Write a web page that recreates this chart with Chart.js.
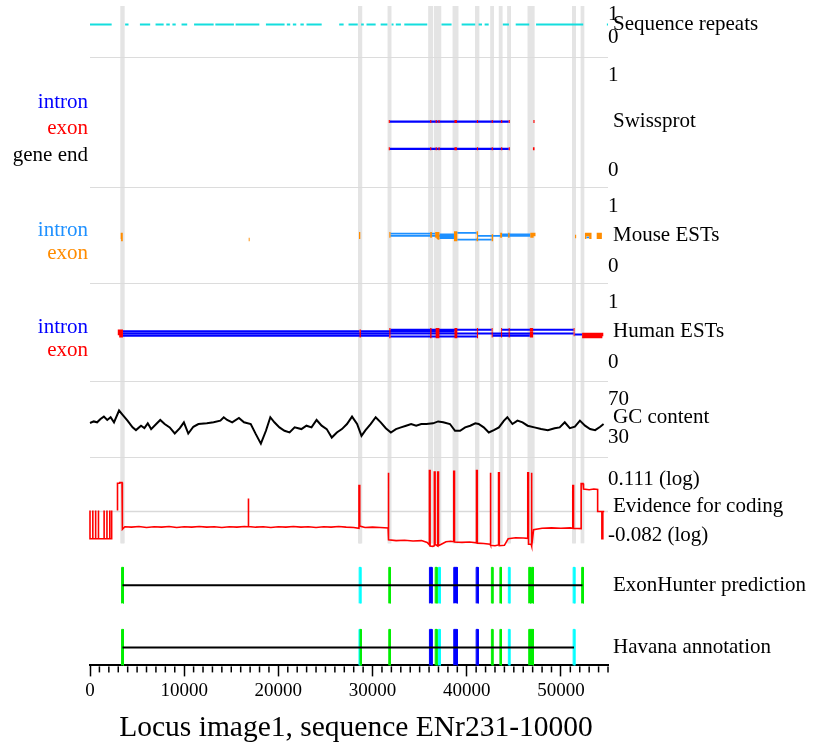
<!DOCTYPE html>
<html><head><meta charset="utf-8">
<script src="https://cdn.jsdelivr.net/npm/chart.js@4.4.1/dist/chart.umd.min.js"></script>
<style>html,body{margin:0;padding:0;background:#fff;}canvas{display:block;}</style>
</head><body>
<canvas id="c" width="813" height="745"></canvas>
<script>
// ---------------- DATA ----------------
const xMin = 0, xMax = 55000, majorStep = 10000, minorStep = 1000;
const xTickLabels = ['0','10000','20000','30000','40000','50000'];
const xTitle = 'Locus image1, sequence ENr231-10000';

const trackIds = ['yRep','ySw','yMo','yHu','yGC','yEv','yEH','yHa'];
const trackNames = ['Sequence repeats','Swissprot','Mouse ESTs','Human ESTs','GC content','Evidence for coding','ExonHunter prediction','Havana annotation'];
const trackTopLabels = ['1','1','1','1','70','0.111 (log)','',''];
const trackBottomLabels = ['0','0','0','0','30','-0.082 (log)','',''];
const trackMin = [0,0,0,0,30,-0.082,0,0];
const trackMax = [1,1,1,1,70,0.111,1,1];

const swissLegend = ['intron','exon','gene end'];
const mouseLegend = ['intron','exon'];
const humanLegend = ['intron','exon'];

// Sequence repeats (bp intervals)
const repeatIntervals = [[0,2300],[3730,4090],[5300,6390],[6960,7820],[8100,8470],[8750,9100],[9720,10320],[11050,13130],[13310,15280],[15460,17980],[18680,20660],[20900,21260],[21540,21900],[22340,22700],[22990,24600],[26460,26930],[27450,28430],[28790,29070],[29360,30330],[30860,31580],[32020,32230],[32470,33010],[33370,35810],[37320,38390],[39460,40900],[41260,41620],[41900,42330],[43830,44480],[45200,46640],[47360,52370],[54880,55000]];

// Swissprot alignments: [row, exons]
const swissAlignments = [
  [0.50, [[31720,31840],[36120,36240],[36700,36820],[37000,37120],[38700,38960],[41080,41200],[42650,42770],[43650,43770],[44460,44580]]],
  [0.50, [[47080,47200]]],
  [0.25, [[31720,31840],[36120,36240],[36700,36820],[37000,37120],[38700,38960],[41080,41200],[42650,42770],[43650,43770],[44460,44580]]],
  [0.25, [[47030,47200]]]
];

// Mouse EST alignments
const mouseAlignments = [
  [0.51,[[3260,3480]]],[0.47,[[3260,3480]]],[0.44,[[3300,3480]]],
  [0.44,[[16850,16950]]],
  [0.52,[[28560,28700]]],[0.47,[[28560,28700]]],
  [0.52,[[31780,31900],[36120,36300],[36650,37100]]],
  [0.49,[[31780,31900],[36120,36300],[36650,37100],[38700,39000]]],
  [0.51,[[36700,37100],[38650,39000]]],
  [0.50,[[36700,37100],[38650,39000]]],
  [0.48,[[36800,37100],[38650,39000]]],
  [0.47,[[36800,37100],[38650,39000]]],
  [0.46,[[36900,37100],[38650,39000]]],
  [0.53,[[38650,39000],[41050,41200]]],
  [0.44,[[38650,39000],[41050,41200],[42650,42800]]],
  [0.49,[[41100,41200],[42650,42800],[43550,43750],[44400,44550],[46750,47100]]],
  [0.51,[[43550,43750],[44400,44550],[46750,47300]]],
  [0.48,[[51500,51620]]],
  [0.51,[[52550,53250]]],[0.47,[[52550,52700],[53000,53250]]],
  [0.51,[[53800,54350]]],[0.47,[[53800,54350]]]
];

// Human EST alignments
const humanAlignments = [
  [0.50,[[2950,3500],[28620,28760]]],
  [0.47,[[2950,3500],[28620,28760],[31780,31900],[36120,36260],[36700,37100],[38700,39000],[41080,41200],[42650,42750],[43650,43750],[44450,44560],[46700,47050],[51350,51450]]],
  [0.44,[[3100,3500],[28620,28760],[31780,31900]]],
  [0.50,[[28620,28760],[31780,31900],[36120,36260],[36700,37100],[38700,39000]]],
  [0.52,[[31780,31900],[36120,36260],[36700,37100],[38700,39000],[41080,41200],[42650,42750]]],
  [0.43,[[31780,31900],[36120,36260],[36700,37100],[38700,39000],[41080,41200]]],
  [0.52,[[43650,43750],[44450,44560],[46700,47050],[51350,51450]]],
  [0.44,[[42650,42750],[43650,43750],[44450,44560],[46700,47050]]],
  [0.455,[[51350,51450],[52250,54500]]],
  [0.43,[[52250,54400]]]
];

// GC content (%), position in bp
const gcPos = [0,397,756,1114,1473,1831,2190,2548,3086,3444,3982,4520,4879,5416,5775,6133,6492,7030,7460,7926,8464,9001,9539,9969,10435,10973,11511,12407,13124,13841,14200,14558,15096,15813,16351,17068,17606,18143,18681,19147,19577,20115,20652,21190,21728,22445,22983,23520,24058,24596,25134,25671,26209,26747,27285,27822,28360,28827,29257,29795,30332,30870,31408,31945,32483,33021,33559,34096,34634,35172,35710,36426,36964,37502,38219,38757,39295,39832,40370,40908,41266,41804,42342,42880,43418,43955,44314,44852,45389,45927,46465,47182,47898,48615,49332,49870,50408,50946,51484,52021,52559,53097,53635,54173,54531];
const gcVal = [45.6,46.8,46.1,48.7,50.5,47.9,50.0,46.1,55.2,52.1,47.4,42.2,40.1,43.5,41.7,45.3,40.9,44.8,47.9,44.8,42.2,37.5,41.6,46.1,37.5,42.7,44.8,45.3,46.1,47.4,50.0,47.9,46.1,49.5,46.1,44.8,37.0,29.7,39.6,50.0,46.1,42.2,39.6,38.3,42.2,40.9,43.5,42.2,47.9,43.5,40.9,34.4,38.3,40.9,44.8,50.5,44.8,35.7,40.1,44.8,50.0,46.1,41.6,38.3,40.9,42.2,43.5,44.8,43.5,44.8,44.8,45.3,46.8,46.1,44.8,39.6,39.6,42.2,43.5,45.3,44.8,42.2,38.3,40.1,42.2,47.4,50.0,44.8,47.4,46.1,43.5,42.2,40.9,40.1,41.6,42.2,46.1,41.6,42.7,47.4,43.5,40.9,40.1,42.7,44.8];

// Evidence for coding (log score), [bp, value]; null = no data
const evidence = [
 [0,-0.075],[0,0.003],[0,-0.075],[300,-0.075],[300,0.003],[300,-0.075],[600,-0.075],[600,0.003],[600,-0.075],[900,-0.075],[900,0.003],[900,-0.075],[1500,-0.075],[1500,0.003],[1500,-0.075],[1800,-0.075],[1800,0.003],[1800,-0.075],[2100,-0.075],[2100,0.003],[2100,-0.075],[2300,-0.075],[2300,0.003],
 [2600,null],
 [2920,0.003],[2920,0.078],[3150,0.078],[3160,0.080],[3400,0.080],[3440,0.077],[3440,-0.049],[3700,-0.042],[4400,-0.043],[5200,-0.041],[6000,-0.044],[6800,-0.042],[7600,-0.043],[8400,-0.041],[9200,-0.044],[10000,-0.042],[10800,-0.043],[11600,-0.041],[12400,-0.043],[13200,-0.042],[14000,-0.044],[14800,-0.042],[15600,-0.043],[16400,-0.041],[16780,-0.042],[16780,0.036],[16850,0.036],[16850,-0.041],[17600,-0.043],[18400,-0.042],[19200,-0.044],[20000,-0.042],[20800,-0.043],[21600,-0.041],[22400,-0.043],[23200,-0.042],[24000,-0.044],[24800,-0.042],[25600,-0.043],[26400,-0.041],[27200,-0.043],[28000,-0.044],[28560,-0.046],[28560,0.072],[28640,0.072],[28640,-0.040],[29200,-0.044],[30000,-0.043],[30800,-0.044],[31650,-0.045],[31650,0.107],[31720,0.107],[31720,-0.078],[32500,-0.080],[33400,-0.079],[34300,-0.081],[35200,-0.080],[35800,-0.085],[36040,-0.092],[36040,0.113],[36110,0.113],[36110,-0.095],[36400,-0.096],[36560,-0.094],[36560,0.109],[36640,0.109],[36640,-0.090],[36920,-0.095],[36920,0.109],[37000,0.109],[37000,-0.094],[37300,-0.090],[37800,-0.083],[38300,-0.082],[38620,-0.083],[38620,0.111],[38700,0.111],[38700,-0.084],[39500,-0.085],[40300,-0.084],[41040,-0.086],[41040,0.113],[41120,0.113],[41120,-0.087],[41800,-0.088],[42480,-0.090],[42480,0.107],[42560,0.107],[42560,-0.093],[43000,-0.094],[43380,-0.092],[43380,0.107],[43460,0.107],[43460,-0.094],[44000,-0.093],[44400,-0.075],[45200,-0.072],[46000,-0.073],[46480,-0.074],[46480,0.107],[46560,0.107],[46560,-0.090],[46840,-0.090],[46840,0.107],[46920,0.107],[46920,-0.095],[47100,-0.050],[48000,-0.046],[49000,-0.045],[50000,-0.046],[51000,-0.045],[51260,-0.046],[51260,0.072],[51340,0.072],[51340,-0.046],[52150,-0.047],[52150,0.077],[52350,0.077],[52400,0.062],[53000,0.060],[53500,0.062],[53900,0.061],[53900,0.0],[54350,0.0],[54350,-0.075],[54450,-0.075],[54450,0.0],[54600,0.0]
];

// ExonHunter prediction exons by colour class
const ehGreen = [[3350,3550],[31720,31880],[36650,36850],[42620,42780],[43520,43680],[46580,46780],[46880,47080],[52200,52380]];
const ehCyan  = [[28580,28760],[37000,37180],[44420,44580],[51300,51480]];
const ehBlue  = [[36040,36320],[38620,39000],[41000,41220]];
const ehGene  = [3450, 52290];
// Havana annotation exons
const havGreen = [[3350,3550],[28680,28800],[31720,31880],[36650,36850],[42620,42780],[43520,43680],[46580,47080]];
const havCyan  = [[28560,28680],[37000,37180],[44420,44580],[51300,51480]];
const havBlue  = [[36040,36320],[38620,39000],[41000,41220]];
const havGene  = [3450, 51390];

// ---------------- LAYOUT / STYLE ----------------
const FONT = "'Liberation Serif', 'Times New Roman', serif";
const trackHeights = [37,109,74,74,52,70,36,36];
const gapHeights = [24,22,22,23,28,26,26];
const separatorGaps = [0,1,2,3,4];
const separatorFrac = [0.6,0.5,0.5,0.55,0.5];
const legendOffsets = {ySw:[-19.5,6.5,33.5], yMo:[-5,18], yHu:[-4,19]};
const legendColors = {ySw:['#0000ff','#ff0000','#000000'], yMo:['#1e90ff','#ff8c00'], yHu:['#0000ff','#ff0000']};
const legendTexts = {ySw:swissLegend, yMo:mouseLegend, yHu:humanLegend};

// ---------------- BUILD ----------------
function intervalPts(intervals, y) {
  const pts = [];
  intervals.forEach(([s,e], i) => { if (i) pts.push({x:s, y:null}); pts.push({x:s, y:y}, {x:e, y:y}); });
  return pts;
}
function intronPts(alignments) {
  const pts = [];
  alignments.forEach(([row, ex]) => {
    if (ex.length < 2) return;
    if (pts.length) pts.push({x:ex[0][0], y:null});
    pts.push({x:ex[0][1], y:row}, {x:ex[ex.length-1][0], y:row});
  });
  return pts;
}
function exonPts(alignments) {
  const pts = [];
  alignments.forEach(([row, ex]) => ex.forEach(([s,e]) => {
    if (pts.length) pts.push({x:s, y:null});
    pts.push({x:s, y:row}, {x:e, y:row});
  }));
  return pts;
}
function blockPts(intervals) {
  const pts = [];
  intervals.forEach(([s,e], i) => {
    if (i) pts.push({x:s, y:null});
    pts.push({x:s,y:0},{x:s,y:1},{x:e,y:1},{x:e,y:0});
  });
  return pts;
}

const datasets = [];
function addLine(axis, data, color, width, order, extra) {
  datasets.push(Object.assign({type:'line', xAxisID:'x', yAxisID:axis, data:data, borderColor:color, backgroundColor:color,
    borderWidth:width, order:order, pointRadius:0, pointHoverRadius:0, fill:false, tension:0, clip:false, spanGaps:false}, extra || {}));
}

addLine('yRep', intervalPts(repeatIntervals, 0.5), '#14dede', 2, 5);
addLine('ySw', intronPts(swissAlignments), '#0000ff', 2.2, 6);
addLine('ySw', exonPts(swissAlignments), '#ff0000', 3, 4);
addLine('yMo', intronPts(mouseAlignments), '#1e90ff', 1.8, 6);
addLine('yMo', exonPts(mouseAlignments), '#ff8c00', 3.5, 4);
addLine('yHu', intronPts(humanAlignments), '#0000ff', 2, 6);
addLine('yHu', exonPts(humanAlignments), '#ff0000', 3.5, 4);
addLine('yGC', gcPos.map((p,i)=>({x:p, y:gcVal[i]})), '#000000', 2, 5);
addLine('yEv', [{x:xMin,y:0},{x:xMax,y:0}], '#d9d9d9', 1.5, 10);
addLine('yEv', evidence.map(([p,v])=>({x:p, y:v})), '#ff0000', 1.6, 5);
addLine('yEH', blockPts(ehGreen), '#00ee00', 1, 3, {fill:'origin'});
addLine('yEH', blockPts(ehCyan), '#00ffff', 1, 3, {fill:'origin'});
addLine('yEH', blockPts(ehBlue), '#0000ff', 1, 3, {fill:'origin'});
addLine('yEH', [{x:ehGene[0],y:0.5},{x:ehGene[1],y:0.5}], '#000000', 2, 1);
addLine('yHa', blockPts(havGreen), '#00ee00', 1, 3, {fill:'origin'});
addLine('yHa', blockPts(havCyan), '#00ffff', 1, 3, {fill:'origin'});
addLine('yHa', blockPts(havBlue), '#0000ff', 1, 3, {fill:'origin'});
addLine('yHa', [{x:havGene[0],y:0.5},{x:havGene[1],y:0.5}], '#000000', 2, 1);

const bandExons = [].concat(ehGreen, ehCyan, ehBlue, havGreen, havCyan, havBlue);

const scales = {
  x: { type:'linear', position:'bottom', min:xMin, max:xMax,
    ticks: { stepSize:minorStep, autoSkip:false, maxRotation:0, minRotation:0, padding:3, color:'#000',
      font:{family:FONT, size:19}, callback: v => xTickLabels.includes(String(v)) ? String(v) : '' },
    grid: { drawOnChartArea:false, tickLength:11, tickWidth:1.5,
      tickColor: c => (c.tick && c.tick.value % majorStep === 0) ? '#000' : 'rgba(0,0,0,0)' },
    border: { display:true, color:'#000', width:2 },
    title: { display:false } }
};
let wgt = 0;
trackIds.forEach((id, i) => {
  scales[id] = {type:'linear', position:'right', stack:'tracks', stackWeight:trackHeights[i], weight:wgt++, display:false, min:trackMin[i], max:trackMax[i]};
  if (i < gapHeights.length) scales['gap'+i] = {type:'linear', position:'right', stack:'tracks', stackWeight:gapHeights[i], weight:wgt++, display:false, min:0, max:1};
});

const trackPlugin = {
  id: 'tracks',
  beforeDatasetsDraw(chart) {
    const ctx = chart.ctx, xs = chart.scales.x;
    const top = chart.scales.yRep.top, bottom = chart.scales.yEv.bottom + 2;
    ctx.save();
    ctx.fillStyle = '#e4e4e4';
    bandExons.forEach(([s,e]) => {
      const a = xs.getPixelForValue(s) - 1, b = xs.getPixelForValue(e) + 1;
      ctx.fillRect(a, top, Math.max(b - a, 3), bottom - top);
    });
    ctx.strokeStyle = '#dcdcdc'; ctx.lineWidth = 1;
    separatorGaps.forEach((g, k) => {
      const sc = chart.scales['gap'+g];
      const y = Math.round(sc.top + (sc.bottom - sc.top) * separatorFrac[k]) + 0.5;
      ctx.beginPath(); ctx.moveTo(xs.left, y); ctx.lineTo(xs.right, y); ctx.stroke();
    });
    ctx.restore();
  },
  afterDraw(chart) {
    const ctx = chart.ctx, xs = chart.scales.x;
    ctx.save();
    ctx.font = '21px ' + FONT;
    ctx.fillStyle = '#000';
    trackIds.forEach((id, i) => {
      const sc = chart.scales[id];
      ctx.textAlign = 'left';
      ctx.textBaseline = 'alphabetic';
      if (trackTopLabels[i]) ctx.fillText(trackTopLabels[i], xs.right, sc.top + 14);
      if (trackBottomLabels[i]) ctx.fillText(trackBottomLabels[i], xs.right, sc.bottom);
      ctx.textBaseline = 'middle';
      ctx.fillText(trackNames[i], xs.right + 5, (sc.top + sc.bottom) / 2);
      if (legendTexts[id]) {
        ctx.textAlign = 'right';
        const mid = (sc.top + sc.bottom) / 2;
        legendTexts[id].forEach((t, k) => {
          ctx.fillStyle = legendColors[id][k];
          ctx.fillText(t, xs.left - 2, mid + legendOffsets[id][k]);
        });
        ctx.fillStyle = '#000';
      }
    });
    // minor ticks
    ctx.strokeStyle = '#000'; ctx.lineWidth = 1.5;
    xs.ticks.forEach(t => {
      if (t.value % majorStep !== 0) {
        const px = xs.getPixelForValue(t.value);
        ctx.beginPath(); ctx.moveTo(px, xs.top + 1); ctx.lineTo(px, xs.top + 7); ctx.stroke();
      }
    });
    // axis title
    ctx.font = '29.5px ' + FONT;
    ctx.textAlign = 'center';
    ctx.textBaseline = 'middle';
    ctx.fillText(xTitle, 356, 728);
    ctx.restore();
  }
};

new Chart(document.getElementById('c'), {
  type: 'line',
  data: { datasets: datasets },
  options: {
    responsive:false, animation:false, events:[],
    layout: { padding: {left:90, right:205, top:6, bottom:39.8} },
    plugins: { legend:{display:false}, tooltip:{enabled:false}, title:{display:false} },
    elements: { point:{radius:0}, line:{tension:0} },
    scales: scales
  },
  plugins: [trackPlugin]
});
</script>
</body></html>
